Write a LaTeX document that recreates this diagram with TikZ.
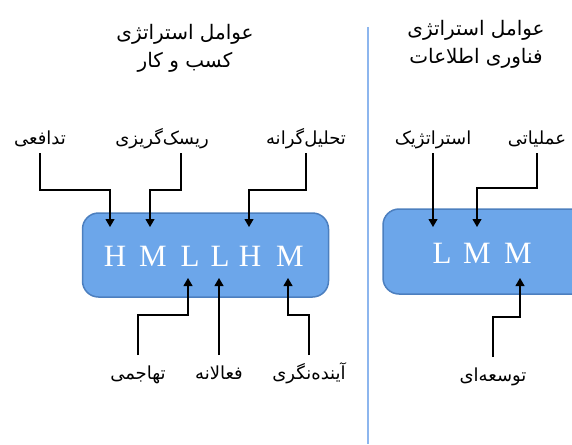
\documentclass[tikz,border=0pt]{standalone}
\usepackage{fontspec}
\setmainfont{Liberation Serif}
\newfontfamily\farsifont[Script=Arabic]{DejaVu Sans}
\TeXXeTstate=1
\newcommand{\fa}[1]{{\farsifont\beginR #1\endR}}
\usetikzlibrary{positioning}
\usetikzlibrary{arrows.meta}
\definecolor{boxblue}{HTML}{6CA6EA}
\definecolor{boxedge}{HTML}{4C7FBF}
\definecolor{divblue}{HTML}{8DB6EE}
\tikzset {
  % rounded blue boxes
  scorebox/.style={draw=boxedge, fill=boxblue, line width=1.5pt, rounded corners=16pt},
  % white letters in the boxes
  score/.style={text=white, font=\fontsize{31}{31}\selectfont, inner sep=0pt},
  % persian factor labels
  factor/.style={font=\fontsize{18}{20}\selectfont, inner xsep=0pt, inner ysep=3pt, text height=13pt, text depth=5pt},
  under/.style={factor, inner ysep=11pt},
  heading/.style={font=\fontsize{20}{28}\selectfont, align=center},
  % connectors
  link/.style={line width=1.1pt, -{Triangle[length=8pt,width=9pt]}},
}
\begin{document}
\begin{tikzpicture}[x=1pt, y=-1pt]
  \useasboundingbox (0,0) rectangle (572,444);
  \clip (0,0) rectangle (572,444);

  % divider
  \draw[divblue, line width=1.5pt] (368,27) -- (368,444);

  % headings
  \node[heading] (bizhead) at (185,48) {\fa{عوامل استراتژی}\\\fa{کسب و کار}};
  \node[heading] (ithead) at (476,44) {\fa{عوامل استراتژی}\\\fa{فناوری اطلاعات}};

  % boxes
  \node[scorebox, minimum width=246pt, minimum height=84pt] (bizbox) at (205.5,255) {};
  \node[scorebox, minimum width=215pt, minimum height=85pt] (itbox) at (490.5,251.5) {};

  \node[score] (b1) at (115,256) {H};
  \node[score] (b2) at (153,256) {M};
  \node[score] (b3) at (190,256) {L};
  \node[score] (b4) at (220,256) {L};
  \node[score] (b5) at (250,256) {H};
  \node[score] (b6) at (290,256) {M};

  \node[score] (i1) at (442,253) {L};
  \node[score] (i2) at (477,253) {M};
  \node[score] (i3) at (518,253) {M};

  % labels above
  \node[factor, anchor=south] (defensive) at (40,153) {\fa{تدافعی}};
  \node[factor, anchor=south] (riskaverse) at (162,153) {\fa{ریسک^^^^200cگریزی}};
  \node[factor, anchor=south] (analytic) at (306,153) {\fa{تحلیل^^^^200cگرانه}};
  \node[factor, anchor=south] (strategic) at (433,153) {\fa{استراتژیک}};
  \node[factor, anchor=south] (operational) at (537,153) {\fa{عملیاتی}};

  % labels below
  \node[under, anchor=north] (aggressive) at (138,355) {\fa{تهاجمی}};
  \node[under, anchor=north] (proactive) at (219,355) {\fa{فعالانه}};
  \node[under, anchor=north] (futurist) at (309,355) {\fa{آینده^^^^200cنگری}};
  \node[under, anchor=north] (developing) at (493,357) {\fa{توسعه^^^^200cای}};

  % arrow tips on the boxes
  \coordinate (tdef) at (110,227);
  \coordinate (trisk) at (150,227);
  \coordinate (tana) at (249,227);
  \coordinate (tstr) at (433,227);
  \coordinate (topr) at (477,227);
  \coordinate (tagg) at (188,278);
  \coordinate (tpro) at (219,278);
  \coordinate (tfut) at (288,278);
  \coordinate (tdev) at (520,278);

  \draw[link] (defensive.south) -- ++(0,37) -| (tdef);
  \draw[link] ([xshift=19pt]riskaverse.south) -- ++(0,37) -| (trisk);
  \draw[link] (analytic.south) -- ++(0,37) -| (tana);
  \draw[link] (strategic.south) -- (tstr);
  \draw[link] (operational.south) -- ++(0,35) -| (topr);

  \draw[link] (aggressive.north) -- ++(0,-40) -| (tagg);
  \draw[link] (proactive.north) -- (tpro);
  \draw[link] (futurist.north) -- ++(0,-40) -| (tfut);
  \draw[link] (developing.north) -- ++(0,-40) -| (tdev);
\end{tikzpicture}
\end{document}
